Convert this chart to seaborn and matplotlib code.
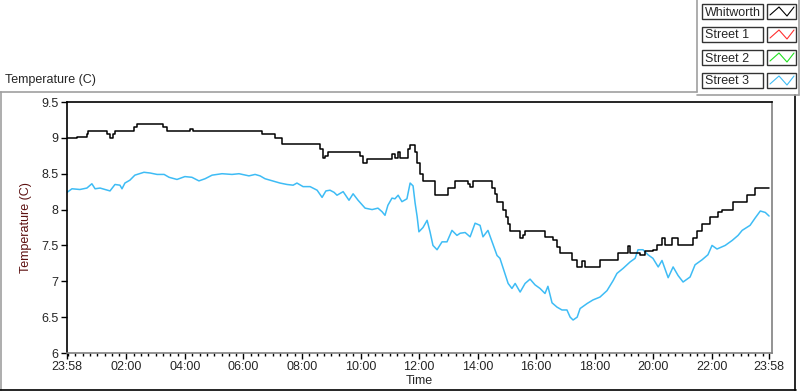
import numpy as np
import pandas as pd
import seaborn as sns
import matplotlib.pyplot as plt
from matplotlib.lines import Line2D
from matplotlib.patches import Rectangle
from matplotlib.ticker import FixedLocator, FuncFormatter

# hours since the 23:58 start
whit_t = [0.0, 0.35, 0.68, 0.72, 1.37, 1.47, 1.57, 1.64, 2.3, 2.39, 3.28, 3.42, 4.2, 4.3,
          6.43, 6.67, 7.1, 7.35, 8.58, 8.65, 8.75, 8.82, 8.92, 9.85, 10.02, 10.12, 10.26,
          10.36, 11.11, 11.21, 11.3, 11.38, 11.66, 11.73, 11.9, 11.97, 12.07, 12.17, 12.58,
          13.03, 13.26, 13.71, 13.78, 13.88, 14.53, 14.63, 14.7, 14.91, 15.01, 15.08, 15.15,
          15.49, 15.59, 15.66, 16.34, 16.62, 16.75, 16.85, 17.26, 17.44, 17.61, 17.71, 18.22,
          18.84, 19.18, 19.25, 19.59, 19.76, 20.03, 20.17, 20.34, 20.44, 20.68, 20.89, 21.4,
          21.54, 21.71, 21.98, 22.26, 22.39, 22.77, 23.25, 23.52, 24.0]
whit_v = [9.0, 9.01, 9.05, 9.1, 9.05, 9.0, 9.05, 9.1, 9.15, 9.2, 9.15, 9.1, 9.12, 9.1,
          9.1, 9.05, 9.0, 8.92, 8.92, 8.85, 8.72, 8.75, 8.8, 8.8, 8.75, 8.65, 8.7,
          8.71, 8.78, 8.72, 8.8, 8.72, 8.85, 8.9, 8.8, 8.65, 8.5, 8.4, 8.2,
          8.3, 8.4, 8.35, 8.32, 8.4, 8.3, 8.22, 8.1, 8.0, 7.9, 7.8, 7.7,
          7.6, 7.65, 7.7, 7.62, 7.57, 7.48, 7.4, 7.3, 7.2, 7.28, 7.2, 7.3,
          7.4, 7.49, 7.4, 7.36, 7.42, 7.43, 7.5, 7.6, 7.5, 7.6, 7.5, 7.6,
          7.7, 7.8, 7.9, 7.97, 8.0, 8.1, 8.2, 8.3, 8.3]

s3_t = [0.0, 0.17, 0.44, 0.68, 0.85, 0.96, 1.13, 1.3, 1.47, 1.64, 1.81, 1.88, 1.98, 2.15,
        2.32, 2.63, 2.84, 3.08, 3.32, 3.49, 3.76, 4.03, 4.27, 4.51, 4.72, 4.96, 5.3, 5.64,
        5.88, 6.22, 6.43, 6.6, 6.77, 6.94, 7.28, 7.52, 7.73, 7.86, 8.07, 8.31, 8.55, 8.72,
        8.85, 8.99, 9.13, 9.23, 9.44, 9.64, 9.78, 9.95, 10.19, 10.43, 10.63, 10.77, 10.87,
        10.97, 11.11, 11.21, 11.32, 11.45, 11.62, 11.73, 11.83, 11.9, 11.97, 12.03, 12.17,
        12.31, 12.41, 12.51, 12.65, 12.82, 12.99, 13.16, 13.33, 13.44, 13.61, 13.78, 13.95,
        14.12, 14.22, 14.39, 14.53, 14.7, 14.8, 14.97, 15.08, 15.21, 15.32, 15.49, 15.66,
        15.83, 16.0, 16.17, 16.34, 16.44, 16.58, 16.75, 16.92, 17.09, 17.2, 17.3, 17.44,
        17.54, 17.78, 17.98, 18.22, 18.46, 18.67, 18.8, 19.01, 19.25, 19.42, 19.52, 19.69,
        19.86, 20.03, 20.21, 20.34, 20.55, 20.72, 20.89, 21.06, 21.3, 21.47, 21.71, 21.91,
        22.05, 22.22, 22.5, 22.74, 22.94, 23.08, 23.35, 23.52, 23.7, 23.87, 24.0]
s3_v = [8.24, 8.29, 8.28, 8.3, 8.36, 8.29, 8.3, 8.28, 8.26, 8.35, 8.34, 8.29, 8.37, 8.41,
        8.48, 8.52, 8.51, 8.49, 8.49, 8.45, 8.42, 8.46, 8.45, 8.4, 8.43, 8.48, 8.5, 8.49,
        8.5, 8.47, 8.49, 8.47, 8.43, 8.41, 8.37, 8.35, 8.34, 8.37, 8.32, 8.32, 8.27, 8.17,
        8.26, 8.27, 8.24, 8.2, 8.25, 8.13, 8.22, 8.13, 8.02, 8.0, 8.02, 7.97, 7.92,
        8.06, 8.16, 8.15, 8.2, 8.11, 8.15, 8.37, 8.33, 8.09, 7.9, 7.69, 7.75,
        7.85, 7.69, 7.5, 7.44, 7.55, 7.55, 7.71, 7.64, 7.67, 7.68, 7.62, 7.81,
        7.78, 7.62, 7.71, 7.55, 7.36, 7.32, 7.11, 6.97, 6.9, 6.97, 6.85, 6.97,
        7.03, 6.95, 6.9, 6.83, 6.93, 6.7, 6.64, 6.6, 6.6, 6.5, 6.46, 6.5,
        6.62, 6.69, 6.74, 6.78, 6.87, 7.01, 7.11, 7.18, 7.27, 7.32, 7.44, 7.44,
        7.37, 7.32, 7.2, 7.29, 7.05, 7.2, 7.08, 6.99, 7.06, 7.23, 7.3, 7.37,
        7.5, 7.45, 7.5, 7.57, 7.64, 7.71, 7.78, 7.88, 7.98, 7.96, 7.91]

series_names = ["Whitworth", "Street 1", "Street 2", "Street 3"]
series_colors = ["#000000", "#ff3030", "#20e020", "#3ebcf5"]

x_ticks = [0.0, 2.0333, 4.0333, 6.0333, 8.0333, 10.0333, 12.0333, 14.0333,
           16.0333, 18.0333, 20.0333, 22.0333, 24.0]
x_labels = ["23:58", "02:00", "04:00", "06:00", "08:00", "10:00", "12:00", "14:00",
            "16:00", "18:00", "20:00", "22:00", "23:58"]
y_ticks = [6, 6.5, 7, 7.5, 8, 8.5, 9, 9.5]

sns.set_style("white")
plt.rcParams["font.family"] = ["Liberation Sans", "DejaVu Sans"]
FS = 9

fig = plt.figure(figsize=(8, 3.92), dpi=100)
W, H = 800, 392


def fx(x):
    return x / W


def fy(y):
    return 1 - y / H


ax = fig.add_axes([fx(67), fy(353), fx(772) - fx(67), fy(102) - fy(353)])

whit = pd.DataFrame({"t": whit_t, "v": whit_v})
s3 = pd.DataFrame({"t": s3_t, "v": s3_v})
sns.lineplot(data=s3, x="t", y="v", ax=ax, color=series_colors[3], lw=1.1)
sns.lineplot(data=whit, x="t", y="v", ax=ax, color=series_colors[0], lw=1.1,
             drawstyle="steps-post")

ax.set_xlim(0, 24.1)
ax.set_ylim(6, 9.5)
ax.xaxis.set_major_locator(FixedLocator(x_ticks))
ax.set_xticklabels(x_labels)
minor = [m / 60 for m in range(2, 24 * 60, 15)]
ax.xaxis.set_minor_locator(FixedLocator(minor))
ax.yaxis.set_major_locator(FixedLocator(y_ticks))
ax.yaxis.set_major_formatter(FuncFormatter(lambda v, p: "%g" % v))
ax.tick_params(axis="both", which="major", direction="out", length=4, width=1,
               color="black", labelsize=FS, pad=2, bottom=True, left=True)
ax.tick_params(axis="x", which="minor", direction="out", length=2.5, width=1,
               color="black", bottom=True)
ax.set_xlabel("Time", fontsize=FS, labelpad=1)
ax.set_ylabel("Temperature (C)", fontsize=FS, color="#5c1010", labelpad=7)

for side, col in [("left", "black"), ("top", "black"), ("right", "#808080"), ("bottom", "#808080")]:
    ax.spines[side].set_visible(True)
    ax.spines[side].set_color(col)
    ax.spines[side].set_linewidth(1.2)

# panel frame
grey = "#a0a0a0"
fig.add_artist(Line2D([fx(0), fx(697)], [fy(92), fy(92)], color=grey, lw=1.2))
fig.add_artist(Line2D([fx(1), fx(1)], [fy(92), fy(390)], color=grey, lw=1.2))
fig.add_artist(Line2D([fx(0), fx(796)], [fy(390), fy(390)], color="black", lw=1.2))
fig.add_artist(Line2D([fx(795), fx(795)], [fy(95), fy(390)], color="black", lw=1.2))
fig.add_artist(Line2D([fx(697), fx(697)], [fy(0), fy(92)], color=grey, lw=1.2))
fig.add_artist(Line2D([fx(697), fx(799)], [fy(95), fy(95)], color=grey, lw=1.2))
fig.add_artist(Line2D([fx(799), fx(799)], [fy(0), fy(95)], color=grey, lw=1.2))

fig.text(fx(5), fy(80), "Temperature (C)", fontsize=FS, va="center", ha="left")

# legend
for i, (name, col) in enumerate(zip(series_names, series_colors)):
    top = 4 + 23 * i
    fig.add_artist(Rectangle((fx(702), fy(top + 15)), fx(763) - fx(702), fy(top) - fy(top + 15),
                             transform=fig.transFigure, fill=False, ec="#333333", lw=1))
    fig.text(fx(705), fy(top + 8.5), name, fontsize=FS, va="center", ha="left")
    fig.add_artist(Rectangle((fx(767), fy(top + 15)), fx(796) - fx(767), fy(top) - fy(top + 15),
                             transform=fig.transFigure, fill=False, ec="#333333", lw=1))
    zx = [770, 779, 787, 794]
    zy = [top + 11, top + 3, top + 12, top + 3]
    fig.add_artist(Line2D([fx(v) for v in zx], [fy(v) for v in zy], color=col, lw=0.8))

fig.savefig("out.png", dpi=100)
